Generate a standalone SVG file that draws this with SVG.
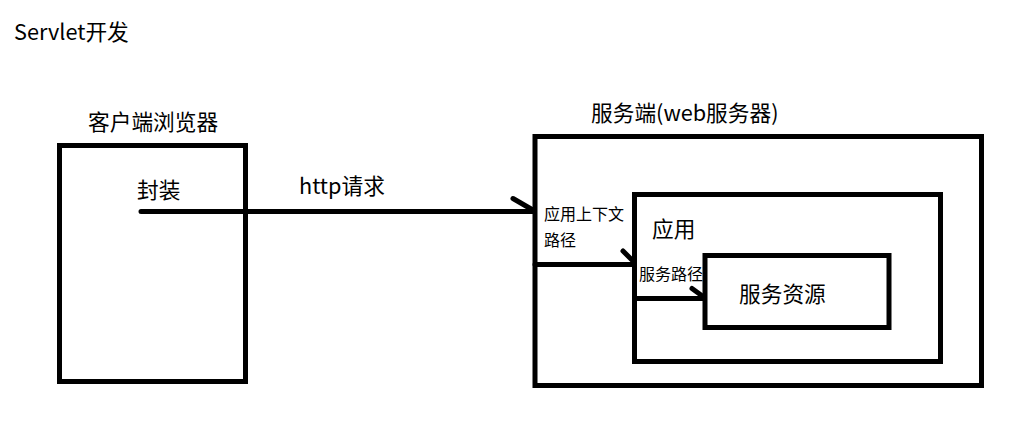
<svg xmlns="http://www.w3.org/2000/svg" width="1034" height="432" viewBox="0 0 1034 432">
<style>
.box{fill:none;stroke:#000;stroke-width:5}
.ln{fill:none;stroke:#000;stroke-width:5;stroke-linecap:round}
.t{font-family:"Noto Sans CJK SC","Microsoft YaHei",sans-serif;fill:#000}
.big{font-size:21.7px}
.sm{font-size:16px}
</style>
<rect width="1034" height="432" fill="#fff"/>
<text class="t big" x="14" y="40">Servlet开发</text>
<g id="client">
<rect class="box" x="59.5" y="145.5" width="186" height="236"/>
<text class="t big" x="88" y="130">客户端浏览器</text>
<text class="t big" x="137" y="198">封装</text>
</g>
<g id="server">
<rect class="box" x="535" y="136.5" width="446.5" height="249"/>
<text class="t big" x="591" y="121">服务端(web服务器)</text>
<text class="t sm" x="544" y="220">应用上下文</text>
<text class="t sm" x="544" y="246">路径</text>
</g>
<g id="app">
<rect class="box" x="634.5" y="194.5" width="306" height="167"/>
<text class="t big" x="652" y="237">应用</text>
<text class="t sm" x="639" y="280">服务路径</text>
</g>
<g id="resource">
<rect class="box" x="705" y="255.5" width="184" height="72"/>
<text class="t big" x="739" y="302">服务资源</text>
</g>
<g id="connectors">
<path class="ln" d="M141 211.5H533M513 198.5L532 209.5"/>
<text class="t big" x="299" y="194">http请求</text>
<path class="ln" d="M535 264.5H633M623 251L634 262"/>
<path class="ln" d="M636 298.5H704M692 288.5L703 296.5"/>
</g>
</svg>
